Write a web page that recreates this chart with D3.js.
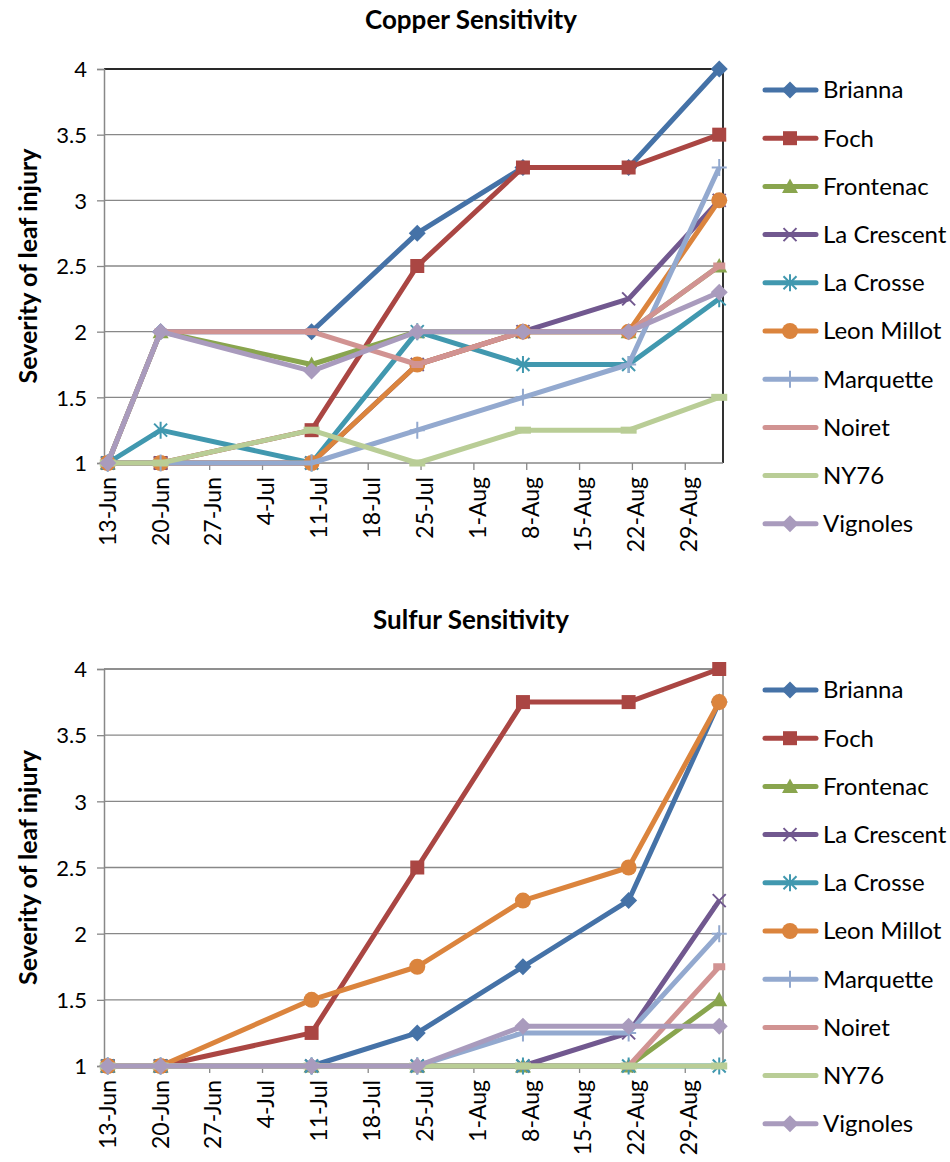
<!DOCTYPE html>
<html><head><meta charset="utf-8">
<script src="https://cdn.jsdelivr.net/npm/d3@7"></script>
<style>
body{margin:0;background:#fff}
svg{display:block}
text{font-family:Lato,"Open Sans",sans-serif;fill:#000}
</style>
</head><body>
<svg id="chart" width="950" height="1162"></svg>
<script>
// ---------- data ----------
const sampleDates = ["2013-06-13","2013-06-20","2013-07-10","2013-07-24","2013-08-07","2013-08-21","2013-09-02"];
const tickDates = ["2013-06-13","2013-06-20","2013-06-27","2013-07-04","2013-07-11","2013-07-18","2013-07-25","2013-08-01","2013-08-08","2013-08-15","2013-08-22","2013-08-29"];
const yTicks = [1, 1.5, 2, 2.5, 3, 3.5, 4];
const varieties = ["Brianna","Foch","Frontenac","La Crescent","La Crosse","Leon Millot","Marquette","Noiret","NY76","Vignoles"];
const colors = ["#4572A7","#AA4643","#89A54E","#71588F","#4198AF","#DB843D","#93A9CF","#D19392","#B9CD96","#A99BBD"];
const markers = ["diamond","square","triangle","x","asterisk","circle","plus","dash","longdash","diamond"];

// Copper sensitivity
const copperBrianna    = [1, 2, 2, 2.75, 3.25, 3.25, 4];
const copperFoch       = [1, 1, 1.25, 2.5, 3.25, 3.25, 3.5];
const copperFrontenac  = [1, 2, 1.75, 2, 2, 2, 2.5];
const copperLaCrescent = [1, 1, 1, 1.75, 2, 2.25, 3];
const copperLaCrosse   = [1, 1.25, 1, 2, 1.75, 1.75, 2.25];
const copperLeonMillot = [1, 1, 1, 1.75, 2, 2, 3];
const copperMarquette  = [1, 1, 1, 1.25, 1.5, 1.75, 3.25];
const copperNoiret     = [1, 2, 2, 1.75, 2, 2, 2.5];
const copperNY76       = [1, 1, 1.25, 1, 1.25, 1.25, 1.5];
const copperVignoles   = [1, 2, 1.7, 2, 2, 2, 2.3];

// Sulfur sensitivity
const sulfurBrianna    = [1, 1, 1, 1.25, 1.75, 2.25, 3.75];
const sulfurFoch       = [1, 1, 1.25, 2.5, 3.75, 3.75, 4];
const sulfurFrontenac  = [1, 1, 1, 1, 1, 1, 1.5];
const sulfurLaCrescent = [1, 1, 1, 1, 1, 1.25, 2.25];
const sulfurLaCrosse   = [1, 1, 1, 1, 1, 1, 1];
const sulfurLeonMillot = [1, 1, 1.5, 1.75, 2.25, 2.5, 3.75];
const sulfurMarquette  = [1, 1, 1, 1, 1.25, 1.25, 2];
const sulfurNoiret     = [1, 1, 1, 1, 1, 1, 1.75];
const sulfurNY76       = [1, 1, 1, 1, 1, 1, 1];
const sulfurVignoles   = [1, 1, 1, 1, 1.3, 1.3, 1.3];

const copperSeries = [copperBrianna, copperFoch, copperFrontenac, copperLaCrescent, copperLaCrosse, copperLeonMillot, copperMarquette, copperNoiret, copperNY76, copperVignoles];
const sulfurSeries = [sulfurBrianna, sulfurFoch, sulfurFrontenac, sulfurLaCrescent, sulfurLaCrosse, sulfurLeonMillot, sulfurMarquette, sulfurNoiret, sulfurNY76, sulfurVignoles];

// ---------- drawing ----------
const parse = d3.timeParse("%Y-%m-%d");
const fmt = d3.timeFormat("%-d-%b");
const svg = d3.select("#chart");

function drawMarker(g, type, color, x, y) {
  const m = g.append("g").attr("transform", `translate(${x},${y})`);
  switch (type) {
    case "diamond": m.append("path").attr("d","M0,-8.5L8.5,0L0,8.5L-8.5,0Z").attr("fill",color); break;
    case "square": m.append("rect").attr("x",-7).attr("y",-7).attr("width",14).attr("height",14).attr("fill",color); break;
    case "triangle": m.append("path").attr("d","M0,-8L8,6.5L-8,6.5Z").attr("fill",color); break;
    case "x": m.append("path").attr("d","M-6.5,-6.5L6.5,6.5M-6.5,6.5L6.5,-6.5").attr("stroke",color).attr("stroke-width",2).attr("fill","none"); break;
    case "asterisk": m.append("path").attr("d","M-6.5,-6.5L6.5,6.5M-6.5,6.5L6.5,-6.5M0,-8.5L0,8.5").attr("stroke",color).attr("stroke-width",2).attr("fill","none"); break;
    case "circle": m.append("circle").attr("r",8).attr("fill",color); break;
    case "plus": m.append("path").attr("d","M-7.5,0L7.5,0M0,-8.5L0,8.5").attr("stroke",color).attr("stroke-width",2).attr("fill","none"); break;
    case "dash": m.append("rect").attr("x",-6).attr("y",-3.5).attr("width",12).attr("height",7).attr("fill",color); break;
    case "longdash": m.append("rect").attr("x",-8).attr("y",-3.5).attr("width",16).attr("height",7).attr("fill",color); break;
  }
}

function drawChart(cfg) {
  const {title, series, top, bottom, frameColor, titleY} = cfg;
  const left = 104, right = 723;
  const d0 = parse(sampleDates[0]), d1 = parse(sampleDates[sampleDates.length-1]);
  const x = d3.scaleTime()
    .domain([d3.timeHour.offset(d0, -12), d3.timeHour.offset(d1, 12)])
    .range([left, right]);
  const y = d3.scaleLinear().domain([1, 4]).range([bottom, top]);
  const g = svg.append("g");

  // title
  g.append("text").attr("x", 471).attr("y", titleY).attr("text-anchor","middle")
    .style("font-weight","bold").style("font-size","26px").text(title);

  // gridlines
  g.append("g").selectAll("line").data(yTicks.filter(v => v > 1)).join("line")
    .attr("x1", left).attr("x2", right).attr("y1", d => y(d)).attr("y2", d => y(d))
    .attr("stroke", "#888").attr("stroke-width", 1.3);

  // frame top/right
  g.append("path").attr("d", `M${left},${y(4)}H${right}V${bottom}`)
    .attr("fill","none").attr("stroke", frameColor).attr("stroke-width", 1.6);

  // y axis
  const yAxis = d3.axisLeft(y).tickValues(yTicks).tickSize(7).tickFormat(d3.format("~g"));
  const ya = g.append("g").attr("transform", `translate(${left},0)`).call(yAxis);
  ya.select(".domain").attr("stroke","#888").attr("stroke-width",1.5);
  ya.selectAll(".tick line").attr("stroke","#888").attr("stroke-width",1.3);
  ya.selectAll(".tick text").attr("x", -17).attr("dy","0.35em")
    .style("font-size","22px").style("font-family","Lato, 'Open Sans', sans-serif").attr("fill","#000");

  // x axis baseline
  g.append("line").attr("x1", left).attr("x2", right).attr("y1", bottom).attr("y2", bottom)
    .attr("stroke","#888").attr("stroke-width",1.5);
  const tds = tickDates.map(parse);
  g.append("g").selectAll("line").data(tds).join("line")
    .attr("x1", d => x(d3.timeHour.offset(d, -12))).attr("x2", d => x(d3.timeHour.offset(d, -12)))
    .attr("y1", bottom).attr("y2", bottom + 7).attr("stroke","#888").attr("stroke-width",1.3);
  g.append("g").selectAll("text").data(tds).join("text")
    .attr("transform", d => `translate(${x(d) + 8},${bottom + 14}) rotate(-90)`)
    .attr("text-anchor","end").style("font-size","23px").text(d => fmt(d));

  // y title
  g.append("text").attr("transform", `translate(37,${(top + bottom) / 2}) rotate(-90)`)
    .attr("text-anchor","middle").style("font-weight","bold").style("font-size","25px")
    .text("Severity of leaf injury");

  // series
  const line = d3.line().x(d => x(d.date)).y(d => y(d.value));
  series.forEach((vals, i) => {
    const pts = vals.map((v, k) => ({date: parse(sampleDates[k]), value: v}));
    const sg = g.append("g");
    sg.append("path").datum(pts).attr("d", line).attr("fill","none")
      .attr("stroke", colors[i]).attr("stroke-width", 5).attr("stroke-linejoin","round");
    pts.forEach(p => drawMarker(sg, markers[i], colors[i], x(p.date), y(p.value)));
  });

  // legend
  const lg = g.append("g");
  varieties.forEach((name, i) => {
    const ly = top + 21 + i * 48.2;
    lg.append("line").attr("x1", 765).attr("x2", 816).attr("y1", ly).attr("y2", ly)
      .attr("stroke", colors[i]).attr("stroke-width", 5).attr("stroke-linecap","round");
    if (markers[i] !== "dash" && markers[i] !== "longdash") drawMarker(lg, markers[i], colors[i], 790, ly);
    lg.append("text").attr("x", 823).attr("y", ly).attr("dy","0.35em").style("font-size","24px").text(name);
  });
}

drawChart({title: "Copper Sensitivity", series: copperSeries, top: 69, bottom: 463, frameColor: "#000", titleY: 29});
drawChart({title: "Sulfur Sensitivity", series: sulfurSeries, top: 669, bottom: 1066, frameColor: "#888", titleY: 629});
</script>
</body></html>
